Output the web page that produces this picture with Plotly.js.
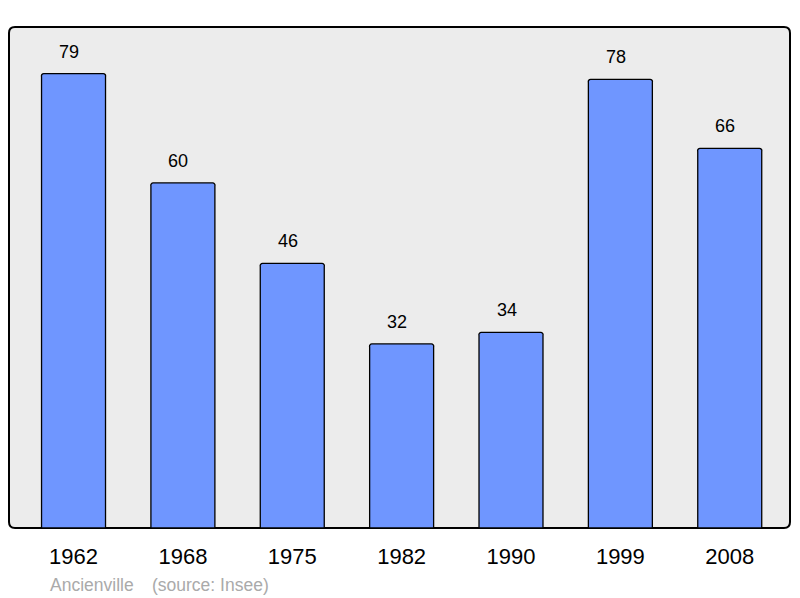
<!DOCTYPE html>
<html>
<head>
<meta charset="utf-8">
<script src="https://cdn.plot.ly/plotly-3.0.1.min.js"></script>
<style>html,body{margin:0;padding:0;background:#fff;}#chart{width:800px;height:598px;}</style>
</head>
<body>
<div id="chart"></div>
<script>
const years = ["1962", "1968", "1975", "1982", "1990", "1999", "2008"];
const population = [79, 60, 46, 32, 34, 78, 66];
const commune = "Ancienville";
const sourceText = "(source: Insee)";

const L = 9, R = 10, T = 27, B = 70;
const W = 800 - L - R, H = 598 - T - B;
const rx = 6 / W, ry = 6 / H;
const framePath = `M ${rx},0 L ${1-rx},0 Q 1,0 1,${ry} L 1,${1-ry} Q 1,1 ${1-rx},1 L ${rx},1 Q 0,1 0,${1-ry} L 0,${ry} Q 0,0 ${rx},0 Z`;
const FONT = "Liberation Sans, Arial, sans-serif";

const trace = {
  type: "bar",
  x: years,
  y: population,
  width: 0.585,
  marker: {color: "#6f96ff", line: {color: "#000", width: 1.3}, cornerradius: 3},
  hoverinfo: "none"
};

// category axis: annotation x given as category index
const valueLabels = years.map((yr, i) => ({
  x: i, y: population[i], xref: "x", yref: "y",
  text: String(population[i]), showarrow: false,
  yanchor: "bottom", xanchor: "center", xshift: -4.5, yshift: 10,
  font: {family: FONT, size: 18, color: "#000"}
}));

const sourceLabels = [
  {xref: "paper", yref: "paper", x: (48 - L) / W, y: -(597 - (598 - B)) / H, yanchor: "bottom",
   xanchor: "left", showarrow: false, text: commune,
   font: {family: FONT, size: 17.5, color: "#aaaaaa"}},
  {xref: "paper", yref: "paper", x: (150 - L) / W, y: -(597 - (598 - B)) / H, yanchor: "bottom",
   xanchor: "left", showarrow: false, text: sourceText,
   font: {family: FONT, size: 17.5, color: "#aaaaaa"}}
];

const layout = {
  width: 800, height: 598,
  margin: {l: L, r: R, t: T, b: B, pad: 0},
  paper_bgcolor: "#fff",
  plot_bgcolor: "rgba(0,0,0,0)",
  showlegend: false,
  bargap: 0,
  xaxis: {
    type: "category", range: [-0.59, 6.551], fixedrange: true,
    showgrid: false, zeroline: false, showline: false,
    ticks: "", tickfont: {family: FONT, size: 22, color: "#000"},
    ticklabelstandoff: 13
  },
  yaxis: {
    range: [0, 87.1], showgrid: false, zeroline: false, showline: false,
    showticklabels: false, ticks: "", fixedrange: true
  },
  shapes: [
    {type: "path", xref: "paper", yref: "paper", path: framePath,
     fillcolor: "#ececec", line: {color: "#000", width: 2}, layer: "below"}
  ],
  annotations: valueLabels.concat(sourceLabels)
};

Plotly.newPlot("chart", [trace], layout, {displayModeBar: false, staticPlot: true});
</script>
</body>
</html>
